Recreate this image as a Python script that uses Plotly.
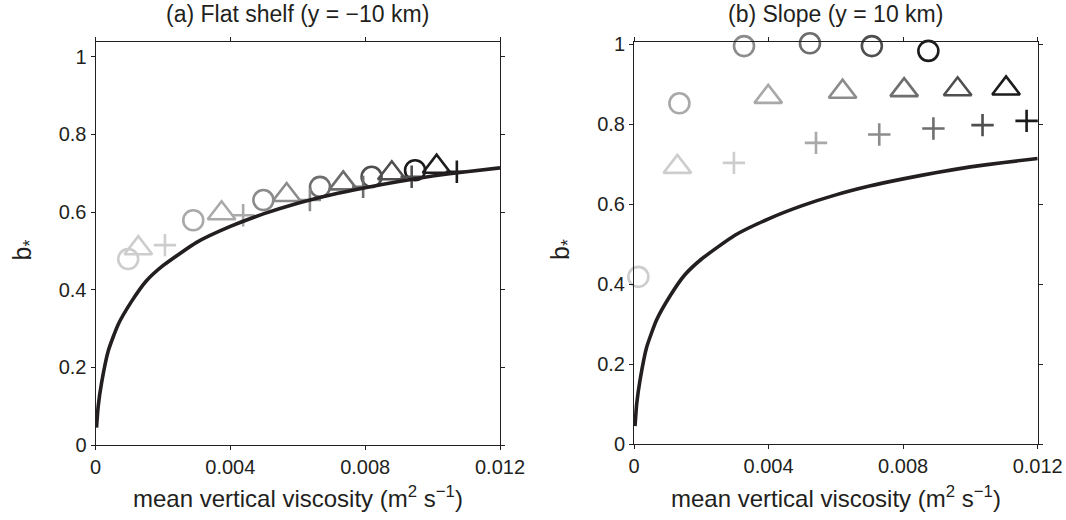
import plotly.graph_objects as go

# Reference curve (shared by both panels)
curve_x = [0.00003, 0.00008, 0.00018, 0.00038, 0.00067, 0.00107, 0.0015, 0.002, 0.003,
           0.004, 0.005, 0.006, 0.007, 0.008, 0.009, 0.010, 0.011, 0.012]
curve_y = [0.045, 0.10, 0.16, 0.243, 0.31, 0.37, 0.422, 0.462, 0.522,
           0.563, 0.596, 0.623, 0.645, 0.663, 0.679, 0.693, 0.704, 0.714]

# Gray levels of the six runs, light to dark
grays = ["#cdcdcd", "#a9a9a9", "#8c8c8c", "#6e6e6e", "#4f4f4f", "#1c1c1c"]

# (a) Flat shelf
a_circle_x = [0.00097, 0.00290, 0.00498, 0.00666, 0.00819, 0.00948]
a_circle_y = [0.479, 0.579, 0.631, 0.665, 0.691, 0.708]
a_tri_x = [0.00127, 0.00374, 0.00567, 0.00735, 0.00879, 0.01012]
a_tri_y = [0.507, 0.597, 0.644, 0.674, 0.700, 0.717]
a_plus_x = [0.00206, 0.00438, 0.00636, 0.00794, 0.00938, 0.01072]
a_plus_y = [0.515, 0.592, 0.631, 0.665, 0.691, 0.704]

# (b) Slope
b_circle_x = [0.00013, 0.00135, 0.00327, 0.00523, 0.00707, 0.00875]
b_circle_y = [0.418, 0.852, 0.995, 1.002, 0.995, 0.983]
b_tri_x = [0.00129, 0.00399, 0.00620, 0.00803, 0.00962, 0.01106]
b_tri_y = [0.693, 0.868, 0.881, 0.885, 0.887, 0.889]
b_plus_x = [0.00297, 0.00541, 0.00729, 0.00890, 0.01036, 0.01167]
b_plus_y = [0.703, 0.753, 0.774, 0.789, 0.7975, 0.808]

x_ticks = [0, 0.004, 0.008, 0.012]
x_ticktext = ["0", "0.004", "0.008", "0.012"]
y_ticks = [0, 0.2, 0.4, 0.6, 0.8, 1]
y_ticktext = ["0", "0.2", "0.4", "0.6", "0.8", "1"]

titles = ["(a) Flat shelf (y = \u221210 km)", "(b) Slope (y = 10 km)"]
x_title = "mean vertical viscosity (m<sup>2</sup> s<sup>\u22121</sup>)"
y_title = "b<sub>*</sub>"

INK = "#231f20"
FONT = "Liberation Sans, Arial, Helvetica, sans-serif"
W, H = 1066, 520

fig = go.Figure()

panels = [
    dict(xa="x", ya="y", circ=(a_circle_x, a_circle_y), tri=(a_tri_x, a_tri_y),
         plus=(a_plus_x, a_plus_y)),
    dict(xa="x2", ya="y2", circ=(b_circle_x, b_circle_y), tri=(b_tri_x, b_tri_y),
         plus=(b_plus_x, b_plus_y)),
]

for p in panels:
    for (xs, ys), sym, size in [(p["circ"], "circle-open", 20),
                                (p["tri"], "triangle-up-open", 24),
                                (p["plus"], "cross-thin-open", 16)]:
        fig.add_trace(go.Scatter(
            x=xs, y=ys, mode="markers", xaxis=p["xa"], yaxis=p["ya"],
            cliponaxis=False, showlegend=False, hoverinfo="skip",
            marker=dict(symbol=sym, size=size, color=grays,
                        line=dict(width=2.6, color=grays)),
        ))
    fig.add_trace(go.Scatter(
        x=curve_x, y=curve_y, mode="lines", xaxis=p["xa"], yaxis=p["ya"],
        line=dict(color=INK, width=3.6, shape="spline", smoothing=0.5),
        showlegend=False, hoverinfo="skip",
    ))

# Plot-area pixel boxes: left, right, top, bottom, y-range top
boxes = [(95.5, 500.0, 41.7, 445.0, 1.039), (634.0, 1037.7, 41.7, 444.0, 1.006)]

axis_common = dict(
    showgrid=False, zeroline=False, showline=True, linecolor=INK, linewidth=1,
    mirror="ticks", ticks="outside", ticklen=4, tickwidth=1, tickcolor=INK,
    tickfont=dict(family=FONT, size=20, color=INK),
)

layout = dict(
    width=W, height=H, margin=dict(l=0, r=0, t=0, b=0),
    plot_bgcolor="white", paper_bgcolor="white",
    font=dict(family=FONT, color=INK),
)
annotations = []
for i, (x0, x1, yt, yb, ytop) in enumerate(boxes):
    sfx = "" if i == 0 else str(i + 1)
    layout["xaxis" + sfx] = dict(
        axis_common, domain=[x0 / W, x1 / W], range=[0, 0.012],
        tickvals=x_ticks, ticktext=x_ticktext, automargin=False,
        anchor="y" + sfx,
    )
    layout["yaxis" + sfx] = dict(
        axis_common, domain=[1 - yb / H, 1 - yt / H], range=[0, ytop],
        tickvals=y_ticks, ticktext=y_ticktext, automargin=False,
        anchor="x" + sfx,
    )
    cx = (x0 + x1) / 2
    annotations.append(dict(
        text=titles[i], x=cx / W, y=1 - 14 / H, xref="paper", yref="paper",
        showarrow=False, xanchor="center", yanchor="middle",
        font=dict(family=FONT, size=23, color=INK),
    ))
    annotations.append(dict(
        text=x_title, x=cx / W, y=1 - 497 / H, xref="paper", yref="paper",
        showarrow=False, xanchor="center", yanchor="middle",
        font=dict(family=FONT, size=24, color=INK),
    ))
    annotations.append(dict(
        text=y_title, x=(x0 - 72) / W, y=1 - 250 / H, xref="paper", yref="paper",
        showarrow=False, xanchor="center", yanchor="middle", textangle=-90,
        font=dict(family=FONT, size=25, color=INK),
    ))

layout["annotations"] = annotations
fig.update_layout(**layout)

fig.write_html("out.html")
